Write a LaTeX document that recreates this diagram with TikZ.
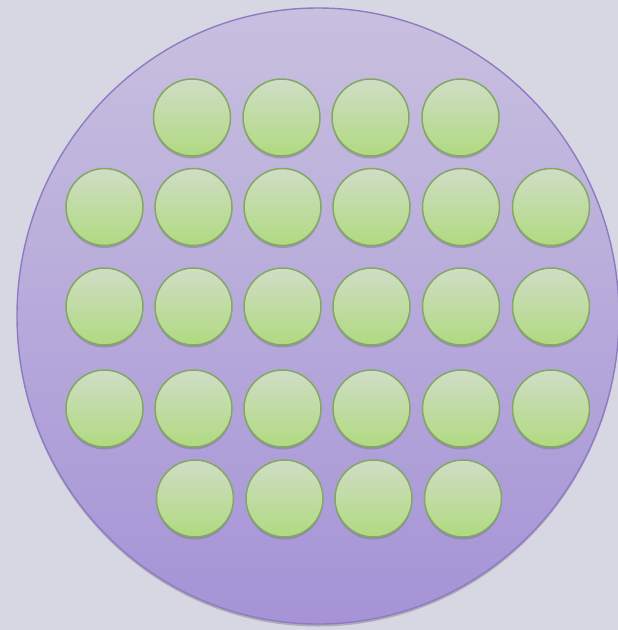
\documentclass[tikz,border=0pt]{standalone}
\usetikzlibrary{shadows,shapes.geometric}
\definecolor{bgc}{HTML}{D6D7E3}
\definecolor{plattop}{HTML}{C8C0DF}
\definecolor{platbot}{HTML}{A593D6}
\definecolor{platedge}{HTML}{8F7BC2}
\definecolor{welltop}{HTML}{D0DDC6}
\definecolor{wellbot}{HTML}{B0DA80}
\definecolor{welledge}{HTML}{82A862}
\tikzset{
  plate/.style={ellipse, minimum width=602pt, minimum height=616pt, inner sep=0pt,
    draw=platedge, line width=1.4pt, top color=plattop, bottom color=platbot,
    drop shadow={shadow xshift=0pt, shadow yshift=-2.5pt, opacity=0.3, fill=black!70}},
  well/.style={circle, minimum size=77pt, inner sep=0pt, draw=welledge, line width=1.5pt,
    top color=welltop, bottom color=wellbot,
    drop shadow={shadow xshift=0pt, shadow yshift=-2.5pt, opacity=0.35, fill=black!60}}
}
\begin{document}
\begin{tikzpicture}[x=1pt,y=-1pt]
\fill[bgc] (0,0) rectangle (618,630);
\useasboundingbox (0,0) rectangle (618,630);
\node[plate] (P) at (318,316) {};
% row 1
\node[well] (a1) at (192,117.5) {};
\node[well] (a2) at (281.5,117.5) {};
\node[well] (a3) at (370.5,117.5) {};
\node[well] (a4) at (460.5,117.5) {};
% row 2
\node[well] (b1) at (104.5,207) {};
\node[well] (b2) at (193.5,207) {};
\node[well] (b3) at (282.5,207) {};
\node[well] (b4) at (371.5,207) {};
\node[well] (b5) at (461,207) {};
\node[well] (b6) at (551,207) {};
% row 3
\node[well] (c1) at (104.5,306.5) {};
\node[well] (c2) at (193.5,306.5) {};
\node[well] (c3) at (282.5,306.5) {};
\node[well] (c4) at (371.5,306.5) {};
\node[well] (c5) at (461,306.5) {};
\node[well] (c6) at (551,306.5) {};
% row 4
\node[well] (d1) at (104.5,408.5) {};
\node[well] (d2) at (193.5,408.5) {};
\node[well] (d3) at (282.5,408.5) {};
\node[well] (d4) at (371.5,408.5) {};
\node[well] (d5) at (461,408.5) {};
\node[well] (d6) at (551,408.5) {};
% row 5
\node[well] (e1) at (195,498.5) {};
\node[well] (e2) at (284.5,498.5) {};
\node[well] (e3) at (373.5,498.5) {};
\node[well] (e4) at (463,498.5) {};
\end{tikzpicture}
\end{document}
